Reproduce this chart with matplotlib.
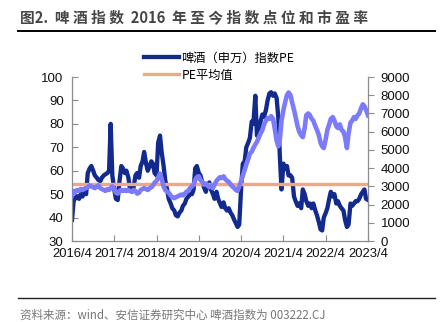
import numpy as np
import pandas as pd
import matplotlib
matplotlib.use("Agg")
import matplotlib.pyplot as plt
import matplotlib.dates as mdates
from matplotlib.lines import Line2D

# 半月频数据, 2016/4/1 - 2023/4/1
dates = pd.date_range("2016-04-01", "2023-04-01", freq="SMS")

# 啤酒（申万）指数PE, 左轴
pe = [
    39, 47, 48.5, 49, 48, 50, 49, 51, 50, 59, 61, 62, 60, 58, 57, 56, 55.5, 57, 58, 58.5, 59, 60, 80, 58,
    52, 48, 47.5, 55, 62, 61, 59, 60, 57, 52, 51, 53, 58, 59, 57, 62, 64, 68, 63, 60, 62, 64, 63, 59,
    58, 72, 75, 68, 62, 56, 52, 48, 46, 44, 43, 41, 40.5, 42, 43, 45, 46, 48, 49, 50, 50, 52, 61, 62,
    59, 58, 55, 53, 51, 54, 55, 52, 50, 48, 51, 48, 46, 44.5, 46.5, 44, 43, 44, 42, 41, 39, 37.5, 36, 37,
    53, 63, 64, 70, 72, 74, 81, 80, 92, 75, 76, 81, 84, 83, 86, 90, 93, 93.5, 92, 93, 91, 83, 66, 52,
    63, 61, 62, 58, 58, 57, 49, 47, 45, 46, 44, 52, 50, 47, 45, 46, 44, 46, 43, 41, 38, 35, 34.5, 40,
    42, 44, 48, 51, 49, 50, 46, 47, 45, 44, 43, 39, 36, 37, 46, 45, 46, 47, 47, 48, 50, 51, 52, 48, 47.5,
]

# 啤酒指数点位, 右轴
idx = [
    2500, 2750, 2700, 2800, 2750, 2850, 2800, 2850, 2900, 2950, 3050, 3000, 2950, 2900, 3000, 3050, 2900, 2850, 2800, 2750, 2850, 2800, 2900, 3000,
    2850, 2650, 2600, 2750, 2800, 2750, 2800, 2750, 2800, 2750, 2700, 2800, 2750, 2600, 2650, 2800, 2850, 2900, 2850, 2800, 2900, 2950, 3050, 3200,
    3300, 3500, 3700, 3400, 3000, 2800, 2700, 2650, 2500, 2400, 2350, 2400, 2450, 2500, 2550, 2500, 2600, 2700, 2750, 2900, 3000, 3100, 3350, 3500,
    3550, 3350, 3250, 3100, 3150, 3050, 2950, 3050, 2900, 3100, 3300, 3400, 3500, 3450, 3550, 3400, 3300, 3250, 3100, 3000, 2900, 2800, 2750, 3000,
    3300, 3600, 3900, 4200, 4500, 4800, 4900, 5100, 5300, 5450, 5700, 5900, 6100, 6400, 6600, 6750, 6700, 6850, 6700, 6200, 5500, 5200, 5600, 6600,
    7200, 7600, 8000, 8150, 8000, 7600, 7200, 6800, 6300, 6000, 5800, 5700, 6200, 6900, 7000, 6900, 6700, 6600, 6300, 6100, 5800, 5400, 5200, 5100,
    5600, 6100, 6400, 6700, 6800, 6600, 6300, 6200, 6400, 6100, 6000, 5700, 5100, 5900, 6500, 6600, 6800, 6700, 6900, 7000, 7300, 7500, 7400, 7200, 6900,
]

pe_mean = 54.3

title = "图2. 啤酒指数 2016 年至今指数点位和市盈率"
source = "资料来源：wind、安信证券研究中心 啤酒指数为 003222.CJ"
labels = ["啤酒（申万）指数PE", "PE平均值"]

left_ticks = [30, 40, 50, 60, 70, 80, 90, 100]
right_ticks = [0, 1000, 2000, 3000, 4000, 5000, 6000, 7000, 8000, 9000]
xticks = pd.date_range("2016-04-01", "2023-04-01", freq="12MS")

cjk = ["Noto Sans CJK SC", "DejaVu Sans"]
num_font = "Liberation Sans"
grey = "#8c8c8c"


def spaced(s):
    # 标题字间距拉开
    return " ".join(ch for ch in s if ch != " ")


fig = plt.figure(figsize=(4.46, 3.22), dpi=100)
ax = fig.add_axes([72 / 446, 81 / 322, 296 / 446, 164 / 322])
ax2 = ax.twinx()

l1, = ax.plot(dates, pe, color="#122a8e", lw=3.1, solid_joinstyle="round")
l2 = ax.axhline(pe_mean, color="#eca88b", lw=2.4)
ax2.plot(dates, idx, color="#7b7bfb", lw=3.3, solid_joinstyle="round")

ax.set_ylim(30, 100)
ax.set_yticks(left_ticks)
ax2.set_ylim(0, 9000)
ax2.set_yticks(right_ticks)
ax.set_xlim(dates[0], dates[-1])
ax.set_xticks(xticks)
ax.xaxis.set_major_formatter(mdates.DateFormatter("%Y/%-m"))

for a in (ax, ax2):
    for s in a.spines.values():
        s.set_color(grey)
        s.set_linewidth(0.9)
    a.spines["top"].set_visible(False)
ax.spines["right"].set_visible(False)
ax2.spines["left"].set_visible(False)
ax2.spines["bottom"].set_visible(False)

ax.tick_params(axis="y", direction="in", length=4, color=grey, pad=6, labelsize=9.5)
ax.tick_params(axis="x", direction="in", length=4, color=grey, pad=5, labelsize=9.4)
ax2.tick_params(axis="y", direction="out", length=4, color=grey, pad=5, labelsize=9.5)
for t in ax.get_xticklabels() + ax.get_yticklabels() + ax2.get_yticklabels():
    t.set_fontfamily(num_font)
    t.set_color("#111111")

# 图例只列 PE 和均值
fig.legend([l1, l2], labels, loc="center", bbox_to_anchor=(219 / 446, 1 - 66.5 / 322),
           frameon=False, prop={"family": cjk, "size": 8.8}, handlelength=2.9,
           handletextpad=0.2, labelspacing=0.35, borderpad=0)

# 标题和横线
head = "图2.  " + spaced("啤酒指数") + "  2016  " + spaced("年至今指数点位和市盈率")
fig.text(20 / 446, 1 - 17 / 322, head, family=cjk, fontsize=10.6, fontweight="bold",
         color="#454545", va="center", ha="left")
fig.add_artist(Line2D([18 / 446, 435 / 446], [1 - 31 / 322] * 2, transform=fig.transFigure,
                      color="black", lw=1.4))

# 底部来源
fig.add_artist(Line2D([18 / 446, 435 / 446], [1 - 298 / 322] * 2, transform=fig.transFigure,
                      color="#222222", lw=1.0))
fig.text(20 / 446, 1 - 315 / 322, source, family=cjk, fontsize=8.3, color="#777777",
         va="center", ha="left")

fig.savefig("out.png", dpi=100)
